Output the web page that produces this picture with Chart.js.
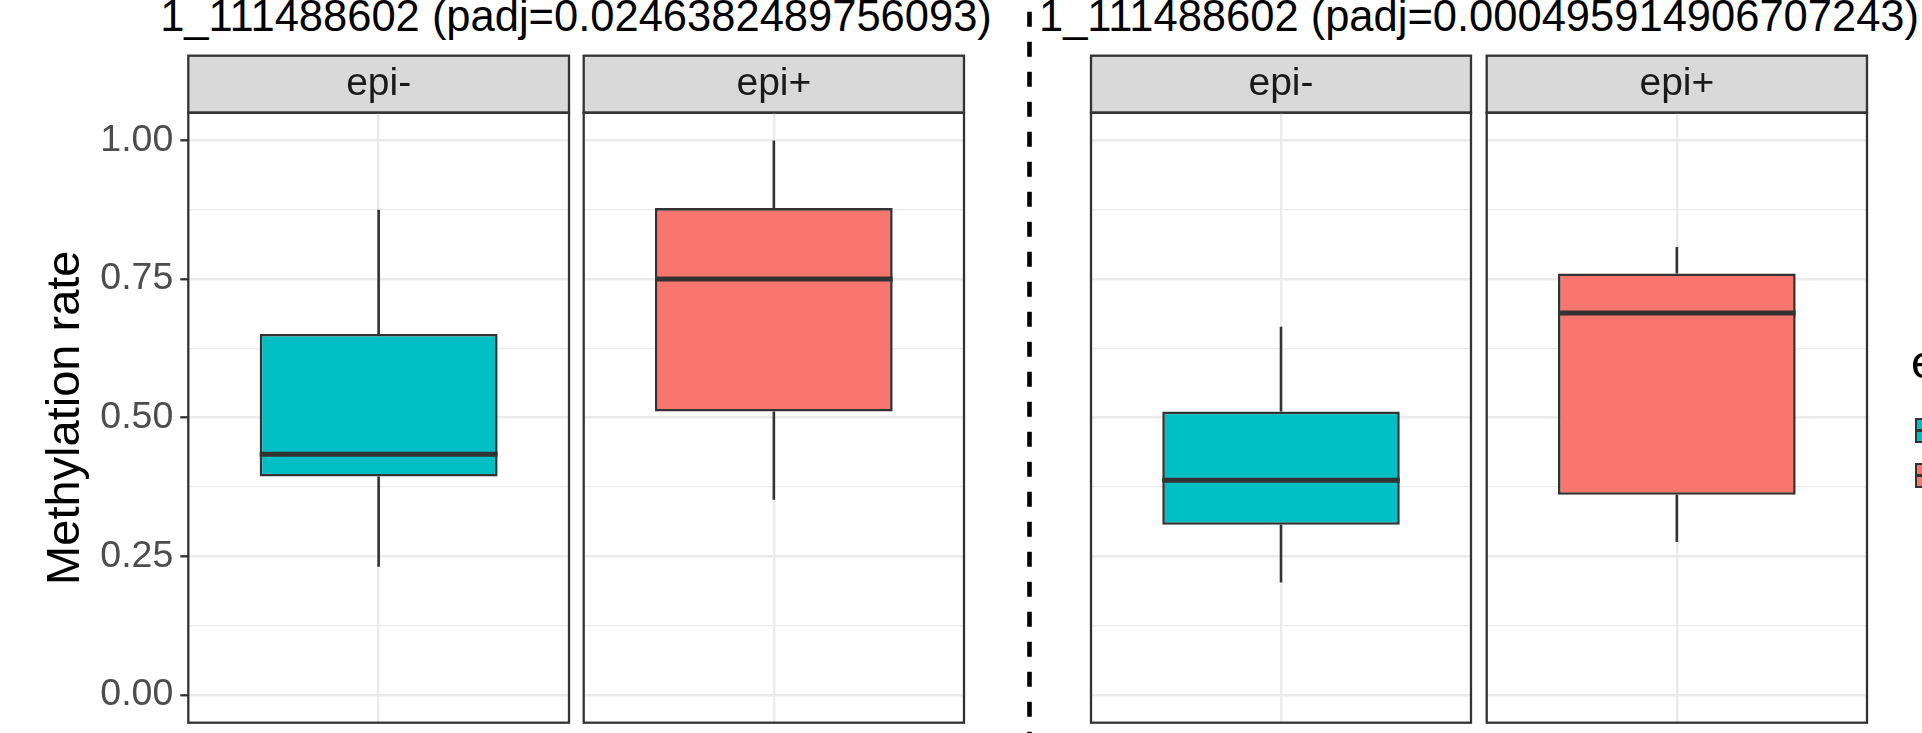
<!DOCTYPE html>
<html lang="en">
<head>
  <meta charset="UTF-8" />
  <title>Methylation rate boxplots</title>
  <script src="https://cdn.jsdelivr.net/npm/chart.js"></script>
  <style>
    body {
      margin: 0;
      width: 1922px;
      height: 733px;
      overflow: hidden;
      background: white;
      position: relative;
      font-family: "Liberation Sans", Arial, sans-serif;
    }
    canvas { position: absolute; }
    .plotTitle {
      position: absolute;
      top: -5px;
      font-size: 43.5px;
      line-height: 43.5px;
      color: #000;
      white-space: nowrap;
      transform: translateX(-50%);
    }
    #divider { position: absolute; left: 0; top: 0; }
    #legend {
      position: absolute;
      left: 1911px;
      top: 0;
    }
    #legend .ttl {
      position: absolute;
      top: 338px;
      left: 0;
      font-size: 47px;
      line-height: 47px;
      white-space: nowrap;
      color: #000;
    }
    #legend .key {
      position: absolute;
      left: 4px;
      width: 40px;
      height: 21px;
      border: 2px solid #333333;
    }
    #legend .key::after {
      content: "";
      position: absolute;
      left: 0; right: 0;
      top: 9px;
      height: 3px;
      background: #333333;
    }
  </style>
</head>
<body>
  <div class="plotTitle" style="left:576px">1_111488602 (padj=0.0246382489756093)</div>
  <div class="plotTitle" style="left:1479px">1_111488602 (padj=0.000495914906707243)</div>

  <canvas id="p1" width="574" height="683" style="left:0px;top:50px"></canvas>
  <canvas id="p2" width="390" height="683" style="left:579px;top:50px"></canvas>
  <canvas id="p3" width="388" height="683" style="left:1087px;top:50px"></canvas>
  <canvas id="p4" width="390" height="683" style="left:1482px;top:50px"></canvas>

  <svg id="divider" width="1922" height="733">
    <line x1="1029.5" y1="11.7" x2="1029.5" y2="733" stroke="#000" stroke-width="4.6" stroke-dasharray="15 15" />
  </svg>

  <div id="legend">
    <div class="ttl">epi</div>
    <div class="key" style="top:418px;background:#00BFC4"></div>
    <div class="key" style="top:463px;background:#F8766D"></div>
  </div>

  <script>
    // groups (facets) and fill colours
    const groups = ['epi-', 'epi+'];
    const fills = ['#00BFC4', '#F8766D'];

    // left plot: five-number summaries per group
    const leftLow  = [0.231, 0.352];
    const leftQ1   = [0.394, 0.511];
    const leftMed  = [0.434, 0.750];
    const leftQ3   = [0.651, 0.878];
    const leftHigh = [0.875, 1.000];

    // right plot
    const rightLow  = [0.203, 0.276];
    const rightQ1   = [0.307, 0.361];
    const rightMed  = [0.387, 0.689];
    const rightQ3   = [0.511, 0.760];
    const rightHigh = [0.664, 0.808];

    // y axis
    const yMajor = [0, 0.25, 0.5, 0.75, 1];
    const yMinor = [0.125, 0.375, 0.625, 0.875];
    const yMin = -0.05, yMax = 1.05;

    Chart.defaults.font.family = '"Liberation Sans", Arial, sans-serif';

    const STRIP_H = 57;
    const DARK = '#333333';

    // grey strip behind the facet label, and the panel frame
    const stripPlugin = {
      id: 'strip',
      beforeDraw(chart) {
        const a = chart.chartArea, ctx = chart.ctx;
        ctx.save();
        ctx.fillStyle = '#D9D9D9';
        ctx.fillRect(a.left, a.top - STRIP_H, a.right - a.left, STRIP_H);
        ctx.strokeStyle = DARK;
        ctx.lineWidth = 2.3;
        ctx.strokeRect(a.left, a.top - STRIP_H, a.right - a.left, STRIP_H);
        ctx.restore();
      },
      afterDraw(chart) {
        const a = chart.chartArea, ctx = chart.ctx;
        ctx.save();
        ctx.strokeStyle = DARK;
        ctx.lineWidth = 2.3;
        ctx.strokeRect(a.left, a.top, a.right - a.left, a.bottom - a.top);
        ctx.restore();
      }
    };

    // whiskers and median line on top of the floating bar
    const boxExtras = {
      id: 'boxExtras',
      afterDatasetsDraw(chart) {
        const s = chart.options.plugins.boxExtras;
        const y = chart.scales.y;
        const bar = chart.getDatasetMeta(0).data[0];
        const ctx = chart.ctx;
        const x = bar.x, half = bar.width / 2;
        ctx.save();
        ctx.strokeStyle = DARK;
        ctx.lineWidth = 2.6;
        ctx.beginPath();
        ctx.moveTo(x, y.getPixelForValue(s.q3));
        ctx.lineTo(x, y.getPixelForValue(s.high));
        ctx.moveTo(x, y.getPixelForValue(s.q1));
        ctx.lineTo(x, y.getPixelForValue(s.low));
        ctx.stroke();
        ctx.lineWidth = 5;
        ctx.beginPath();
        const ym = y.getPixelForValue(s.med);
        ctx.moveTo(x - half, ym);
        ctx.lineTo(x + half, ym);
        ctx.stroke();
        ctx.restore();
      }
    };

    const allTicks = yMajor.concat(yMinor).sort((a, b) => a - b);
    const isMajor = v => yMajor.includes(v);

    function makePanel(id, gi, stats, pad, showAxis) {
      const ctx = document.getElementById(id).getContext('2d');
      return new Chart(ctx, {
        type: 'bar',
        data: {
          labels: [groups[gi]],
          datasets: [{
            data: [[stats.q1[gi], stats.q3[gi]]],
            backgroundColor: fills[gi],
            borderColor: DARK,
            borderWidth: 2.6,
            borderSkipped: false,
            barPercentage: 0.625,
            categoryPercentage: 1.0
          }]
        },
        options: {
          responsive: false,
          animation: false,
          layout: { padding: pad },
          plugins: {
            legend: { display: false },
            tooltip: { enabled: false },
            title: {
              display: true,
              fullSize: false,
              text: groups[gi],
              color: '#1A1A1A',
              font: { size: 39, weight: 'normal', lineHeight: 1.2 },
              padding: { top: 5.1, bottom: 5.1 }
            },
            boxExtras: {
              low: stats.low[gi], q1: stats.q1[gi], med: stats.med[gi],
              q3: stats.q3[gi], high: stats.high[gi]
            }
          },
          scales: {
            x: {
              ticks: { display: false },
              grid: { offset: false, color: '#EBEBEB', lineWidth: 2.4, drawTicks: false },
              border: { display: false },
              afterFit: s => { s.height = 0; }
            },
            y: {
              min: yMin,
              max: yMax,
              afterBuildTicks: s => { s.ticks = allTicks.map(v => ({ value: v })); },
              ticks: {
                display: showAxis,
                autoSkip: false,
                color: '#4D4D4D',
                padding: 7,
                font: { size: 37.5 },
                callback: v => isMajor(v) ? v.toFixed(2) : ''
              },
              grid: {
                color: '#EBEBEB',
                lineWidth: c => isMajor(c.tick.value) ? 2.6 : 1.3,
                drawTicks: showAxis,
                tickLength: 8,
                tickWidth: 2.3,
                tickColor: c => isMajor(c.tick.value) ? DARK : 'rgba(0,0,0,0)'
              },
              border: { display: false },
              title: {
                display: showAxis,
                text: 'Methylation rate',
                color: '#000',
                font: { size: 47, lineHeight: 1.2 },
                padding: { top: 38, bottom: 0 }
              },
              afterFit: s => {
                s.width = showAxis ? 188.3 : 0;
                s.paddingTop = 0;
                s.paddingBottom = 0;
              }
            }
          }
        },
        plugins: [stripPlugin, boxExtras]
      });
    }

    const leftStats = { low: leftLow, q1: leftQ1, med: leftMed, q3: leftQ3, high: leftHigh };
    const rightStats = { low: rightLow, q1: rightQ1, med: rightMed, q3: rightQ3, high: rightHigh };

    makePanel('p1', 0, leftStats, { top: 5.7, bottom: 10.3, left: 0, right: 5 }, true);
    makePanel('p2', 1, leftStats, { top: 5.7, bottom: 10.3, left: 4.7, right: 5 }, false);
    makePanel('p3', 0, rightStats, { top: 5.7, bottom: 10.3, left: 4, right: 4 }, false);
    makePanel('p4', 1, rightStats, { top: 5.7, bottom: 10.3, left: 4.7, right: 5 }, false);
  </script>
</body>
</html>
